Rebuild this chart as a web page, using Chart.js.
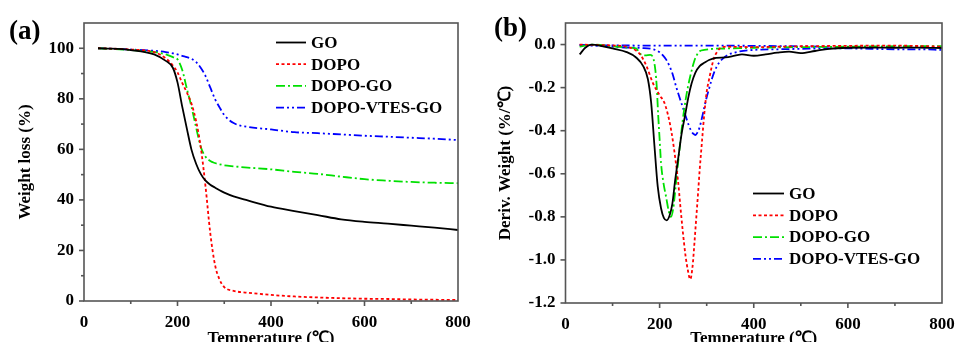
<!DOCTYPE html>
<html>
<head>
<meta charset="utf-8">
<script src="https://cdn.jsdelivr.net/npm/chart.js@4.4.1/dist/chart.umd.min.js"></script>
<style>
    body { margin: 0; background: #fff; width: 957px; height: 342px; overflow: hidden; position: relative; }
    canvas { position: absolute; top: 0; }
    #chartA { left: 0; }
    #chartB { left: 480px; }
    .tag { position: absolute; font: bold 27px 'Liberation Serif', serif; color: #000; }
</style>
</head>
<body>
<canvas id="chartA" width="480" height="342"></canvas>
<canvas id="chartB" width="477" height="342"></canvas>
<div class="tag" style="left:9px;top:15px;">(a)</div>
<div class="tag" style="left:494px;top:12px;">(b)</div>
<script>
// ---- (a) TGA: weight vs temperature ----
const tempA = [30, 50, 100, 150, 175, 190, 200, 210, 220, 230, 240, 250, 260, 270, 280, 290, 300, 320, 350, 400, 450, 500, 550, 600, 650, 700, 750, 800];
const goA = [100, 99.9, 99.3, 97.6, 95, 92.3, 86.5, 77, 68.2, 59.8, 54.2, 50.2, 47.6, 46, 44.9, 43.8, 42.9, 41.4, 39.8, 37.3, 35.6, 34, 32.3, 31.3, 30.6, 29.8, 29, 28.1];
const dopoA = [100, 99.9, 99.5, 98.5, 96, 93.2, 90.5, 86.3, 82.5, 78, 71, 60.5, 45.2, 27, 14.5, 8.5, 5.5, 4, 3.3, 2.4, 1.8, 1.4, 1.1, 0.9, 0.8, 0.6, 0.5, 0.4];
const dopoGoA = [100, 99.8, 99.3, 98.5, 97.6, 96.5, 95.6, 91.5, 84, 76.8, 68.5, 60.8, 57.1, 55.4, 54.6, 54.1, 53.7, 53.3, 52.8, 52.1, 51.1, 50.3, 49.2, 48.2, 47.6, 47.1, 46.8, 46.6];
const vtesA = [100, 99.9, 99.5, 99, 98.5, 98, 97.6, 97, 96.5, 95.8, 94.5, 92.2, 89, 84.5, 80, 76.6, 73.6, 70.4, 68.9, 67.9, 66.8, 66.4, 65.9, 65.4, 65, 64.6, 64.2, 63.7];

// ---- (b) DTG: derivative weight vs temperature ----
const goTempB = [30, 42, 55, 80, 100, 130, 150, 165, 175, 182, 189, 196, 203, 209, 215, 221, 227, 233, 240, 247, 254, 261, 268, 276, 285, 295, 305, 320, 340, 360, 375, 400, 425, 450, 475, 500, 530, 560, 600, 650, 700, 750, 800];
const goB = [-0.046, -0.015, 0, -0.008, -0.018, -0.035, -0.06, -0.1, -0.16, -0.27, -0.47, -0.66, -0.76, -0.805, -0.816, -0.795, -0.74, -0.63, -0.52, -0.41, -0.33, -0.245, -0.18, -0.13, -0.1, -0.085, -0.072, -0.062, -0.06, -0.052, -0.046, -0.052, -0.046, -0.038, -0.033, -0.04, -0.03, -0.02, -0.015, -0.014, -0.015, -0.014, -0.016];
const dopoTempB = [30, 60, 100, 130, 150, 160, 172, 186, 200, 210, 217, 223, 228, 234, 239, 244, 249, 255, 260, 265, 270, 274, 278, 282, 285, 290, 295, 300, 306, 311, 316, 322, 327, 340, 400, 500, 600, 700, 800];
const dopoB = [0, -0.002, -0.004, -0.01, -0.028, -0.05, -0.1, -0.18, -0.235, -0.27, -0.32, -0.38, -0.445, -0.54, -0.63, -0.75, -0.863, -0.98, -1.048, -1.09, -1.03, -0.92, -0.8, -0.68, -0.585, -0.45, -0.32, -0.22, -0.152, -0.1, -0.059, -0.035, -0.02, -0.01, -0.012, -0.008, -0.006, -0.005, -0.01];
const dopoGoTempB = [30, 55, 100, 140, 150, 160, 170, 180, 186, 191, 194, 197, 200, 203, 208, 214, 219, 224, 229, 234, 239, 244, 249, 255, 260, 267, 274, 280, 285, 295, 313, 350, 400, 500, 600, 700, 800];
const dopoGoB = [-0.01, 0, -0.008, -0.015, -0.018, -0.045, -0.05, -0.048, -0.06, -0.12, -0.2, -0.33, -0.44, -0.55, -0.64, -0.71, -0.77, -0.8, -0.76, -0.66, -0.553, -0.45, -0.353, -0.26, -0.198, -0.13, -0.074, -0.045, -0.031, -0.025, -0.02, -0.018, -0.015, -0.012, -0.01, -0.008, -0.008];
const vtesTempB = [30, 60, 100, 130, 160, 186, 200, 207, 214, 221, 228, 235, 242, 249, 256, 262, 267, 272, 276, 280, 285, 290, 295, 300, 306, 311, 316, 322, 327, 332, 338, 345, 355, 370, 400, 450, 500, 550, 600, 650, 700, 750, 800];
const vtesB = [-0.002, -0.005, -0.01, -0.014, -0.016, -0.022, -0.036, -0.05, -0.07, -0.1, -0.14, -0.195, -0.244, -0.29, -0.337, -0.375, -0.4, -0.415, -0.42, -0.41, -0.384, -0.34, -0.291, -0.245, -0.198, -0.16, -0.128, -0.1, -0.082, -0.07, -0.059, -0.048, -0.04, -0.032, -0.025, -0.022, -0.02, -0.018, -0.018, -0.02, -0.022, -0.022, -0.025];
// the flat blue trace that runs along the zero line in (b)
const vtesFlatTempB = [30, 100, 200, 300, 400, 480, 560];
const vtesFlatB = [-0.003, -0.004, -0.005, -0.005, -0.006, -0.008, -0.01];

const labels = ['GO', 'DOPO', 'DOPO-GO', 'DOPO-VTES-GO'];
const xTicks = [0, 200, 400, 600, 800];

const FONT = "'Liberation Serif', 'Times New Roman', serif";
const styles = [
    { borderColor: '#000000', borderDash: [], borderWidth: 1.8 },
    { borderColor: '#ff0000', borderDash: [3, 2.5], borderWidth: 1.8 },
    { borderColor: '#00e000', borderDash: [9, 3, 2, 3], borderWidth: 1.8 },
    { borderColor: '#0000ff', borderDash: [8, 3, 2, 3, 2, 3], borderWidth: 1.8 },
];

const pts = (xs, ys) => xs.map((x, i) => ({ x: x, y: ys[i] }));

function makeSet(label, data, style) {
    return Object.assign({
        label: label,
        data: data,
        pointRadius: 0,
        fill: false,
        cubicInterpolationMode: 'monotone',
    }, style);
}

// frame, hand drawn ticks (major/minor) and the line legend
const framePlugin = {
    id: 'frame',
    afterDraw(chart, args, opts) {
        const ctx = chart.ctx;
        const a = chart.chartArea;
        ctx.save();
        ctx.strokeStyle = '#555';
        ctx.lineWidth = 1.6;
        ctx.strokeRect(a.left, a.top, a.right - a.left, a.bottom - a.top);

        const xs = chart.scales.x;
        xs.ticks.forEach((t) => {
            if (t.value <= xs.min || t.value >= xs.max) return;
            const px = xs.getPixelForValue(t.value);
            const len = t.value % 200 === 0 ? 5 : 3;
            ctx.beginPath();
            ctx.moveTo(px, a.bottom);
            ctx.lineTo(px, a.bottom + len);
            ctx.stroke();
        });
        const ys = chart.scales.y;
        ys.ticks.forEach((t) => {
            if (t.value >= ys.max - 1e-9) return;
            const py = ys.getPixelForValue(t.value);
            const len = opts.isMajor(t.value) ? 5 : 3;
            ctx.beginPath();
            ctx.moveTo(a.left, py);
            ctx.lineTo(a.left - len, py);
            ctx.stroke();
        });

        const lg = opts.legend;
        ctx.font = 'bold 17px ' + FONT;
        ctx.textBaseline = 'middle';
        ctx.fillStyle = '#000';
        labels.forEach((name, i) => {
            const ds = chart.data.datasets[i];
            const y = lg.y + i * lg.dy;
            ctx.strokeStyle = ds.borderColor;
            ctx.lineWidth = ds.borderWidth;
            ctx.setLineDash(ds.borderDash);
            ctx.beginPath();
            ctx.moveTo(lg.x, y);
            ctx.lineTo(lg.x + lg.len, y);
            ctx.stroke();
            ctx.setLineDash([]);
            ctx.fillText(name, lg.x + lg.len + 5, y + 1);
        });
        ctx.restore();
    },
};

function axisX(height) {
    return {
        type: 'linear',
        min: 0,
        max: 800,
        afterFit: (s) => {
            s.height = height;
            s.paddingLeft = 0;
            s.paddingRight = 0;
        },
        afterBuildTicks: (s) => { s.ticks = Array.from({ length: 9 }, (v, i) => ({ value: i * 100 })); },
        grid: { display: false, drawTicks: false },
        border: { display: false },
        ticks: {
            padding: 11,
            color: '#000',
            font: { family: FONT, weight: 'bold', size: 17 },
            maxRotation: 0,
            autoSkip: false,
            callback: (v) => (xTicks.includes(v) ? String(v) : ''),
        },
        title: {
            display: true,
            text: 'Temperature (℃)',
            color: '#000',
            font: { family: FONT, weight: 'bold', size: 17, lineHeight: 0.45 },
            padding: { top: 0, bottom: 0 },
        },
    };
}

function axisY(width, min, max, title, label) {
    return {
        type: 'linear',
        min: min,
        max: max,
        afterFit: (s) => {
            s.width = width;
            s.paddingTop = 0;
            s.paddingBottom = 0;
        },
        grid: { display: false, drawTicks: false },
        border: { display: false },
        ticks: {
            stepSize: max > 1 ? 10 : 0.1,
            padding: 10,
            color: '#000',
            font: { family: FONT, weight: 'bold', size: 17 },
            callback: label,
        },
        title: {
            display: true,
            text: title,
            color: '#000',
            font: { family: FONT, weight: 'bold', size: 17 },
            padding: { top: 15, bottom: 0 },
        },
    };
}

Chart.defaults.animation = false;

new Chart(document.getElementById('chartA'), {
    type: 'line',
    data: {
        datasets: [
            makeSet('GO', pts(tempA, goA), styles[0]),
            makeSet('DOPO', pts(tempA, dopoA), styles[1]),
            makeSet('DOPO-GO', pts(tempA, dopoGoA), styles[2]),
            makeSet('DOPO-VTES-GO', pts(tempA, vtesA), styles[3]),
        ],
    },
    plugins: [framePlugin],
    options: {
        responsive: false,
        devicePixelRatio: 1,
        layout: { padding: { top: 23, right: 22, left: 0, bottom: 0 } },
        plugins: {
            legend: { display: false },
            tooltip: { enabled: false },
            frame: {
                isMajor: (v) => Math.round(v) % 20 === 0,
                legend: { x: 276, y: 42.5, dy: 21.7, len: 30 },
            },
        },
        scales: {
            x: axisX(41),
            y: axisY(84, 0, 110, 'Weight loss (%)',
                (v) => (Math.round(v) % 20 === 0 ? String(Math.round(v)) : '')),
        },
    },
});

new Chart(document.getElementById('chartB'), {
    type: 'line',
    data: {
        datasets: [
            makeSet('GO', pts(goTempB, goB), styles[0]),
            makeSet('DOPO', pts(dopoTempB, dopoB), styles[1]),
            makeSet('DOPO-GO', pts(dopoGoTempB, dopoGoB), styles[2]),
            makeSet('DOPO-VTES-GO', pts(vtesTempB, vtesB), styles[3]),
            makeSet('_flat', pts(vtesFlatTempB, vtesFlatB), styles[3]),
        ],
    },
    plugins: [framePlugin],
    options: {
        responsive: false,
        devicePixelRatio: 1,
        layout: { padding: { top: 23, right: 15, left: 0, bottom: 0 } },
        plugins: {
            legend: { display: false },
            tooltip: { enabled: false },
            frame: {
                isMajor: (v) => Math.round(v * 10) % 2 === 0,
                legend: { x: 273, y: 193.5, dy: 21.8, len: 31 },
            },
        },
        scales: {
            x: axisX(39),
            y: axisY(85.5, -1.2, 0.1, 'Deriv. Weight (%/℃)', (v) => {
                const k = Math.round(v * 10);
                return k % 2 === 0 ? (k / 10).toFixed(1) : '';
            }),
        },
    },
});
</script>
</body>
</html>
